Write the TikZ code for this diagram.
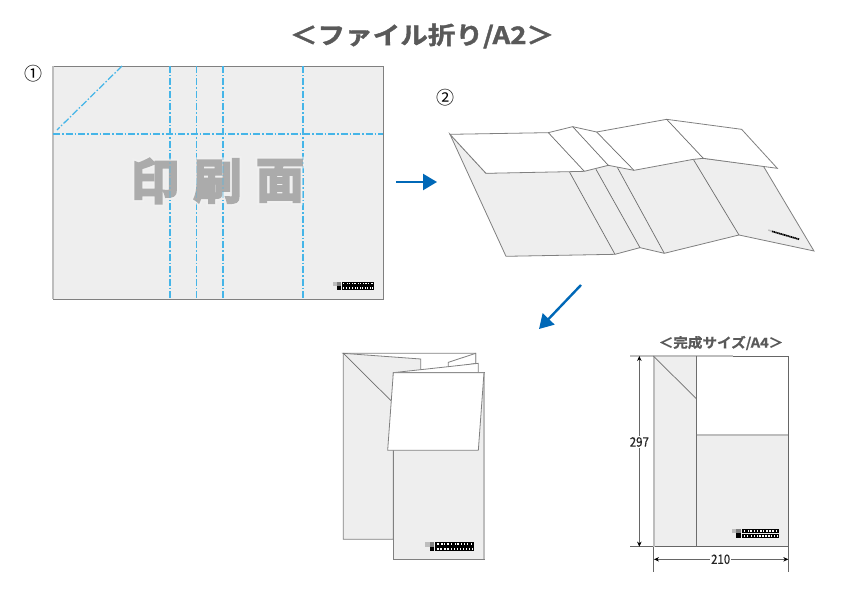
\documentclass[tikz,border=0pt]{standalone}
\usepackage{fontspec}
\setmainfont{Noto Sans CJK JP}
\newfontfamily\heavyfont[FakeBold=4.5]{Noto Sans CJK JP Bold}
\newfontfamily\haloa[FakeBold=13]{Noto Sans CJK JP Bold}
\newfontfamily\boldjp[FakeStretch=1.15,FakeBold=1.5]{Noto Sans CJK JP Bold}
\newfontfamily\boldsub[FakeStretch=1.08,FakeBold=.8]{Noto Sans CJK JP Bold}
\newfontfamily\thinjp{Noto Sans CJK JP}
\newfontfamily\dimjp[FakeStretch=.88,FakeBold=.5]{Noto Sans CJK JP}
\definecolor{sheet}{HTML}{EEEEEE}
\definecolor{edge}{HTML}{808080}
\definecolor{pale}{HTML}{BDBDBD}
\definecolor{fold}{HTML}{45B5E8}
\definecolor{flow}{HTML}{0068B7}
\definecolor{headg}{HTML}{595959}
\usetikzlibrary{arrows.meta}
\tikzset{
  paper/.style={draw=edge,fill=sheet,line width=.8pt},
  flap/.style={draw=edge,fill=white,line width=.8pt},
  crease/.style={draw=edge!85!black,line width=.7pt},
  foldline/.style={draw=fold,line width=1.25pt,dash pattern=on 7pt off 2pt on 1.5pt off 2pt},
  paleedge/.style={draw=pale,line width=1.4pt},
  flowarrow/.style={draw=flow,line width=2.4pt,-{Triangle[length=14pt,width=16pt]}},
  dimline/.style={draw=black!60,line width=.7pt},
  dimarrow/.style={draw=black!60,line width=.7pt,{Stealth[length=5pt,width=4.5pt,black]}-{Stealth[length=5pt,width=4.5pt,black]}},
  headtext/.style={text=headg,inner sep=0pt},
  bigtext/.style={text=black!33,inner sep=0pt,font=\heavyfont\fontsize{48}{48}\selectfont},
  halotext/.style={text=white!94!black,inner sep=0pt,font=\haloa\fontsize{48}{48}\selectfont},
  numtext/.style={inner sep=0pt,font=\thinjp\fontsize{18}{18}\selectfont},
  dimtext/.style={inner sep=1pt,font=\dimjp\fontsize{13}{13}\selectfont,text=black!85},
}
% small imprint mark: #1 = top-left, #2 = scale; 48 x 9 units
\newcommand{\imprintmark}[2]{%
  \begin{scope}[shift={#1},x=#2pt,y=-#2pt]
    \fill[pale] (0,0) rectangle (4.5,4.5);
    \fill[black!50] (4.5,0) rectangle (9,4.5);
    \fill[black] (4.5,4.5) rectangle (9,9);
    \fill[black] (10,0) rectangle (48,4.5);
    \foreach \wx in {12,16,18.5,22,25,29,31.5,35,38,41,45}
      \fill[white] (\wx,1) rectangle ++(1.4,1.6);
    \fill[black] (10,5) rectangle (48,9);
    \foreach \wx in {12,15,19,22,25.5,28,31,34,37,40,43,46}
      \fill[white] (\wx,6) rectangle ++(1.3,2);
  \end{scope}}
\begin{document}
\begin{tikzpicture}[x=1pt,y=-1pt]
\useasboundingbox (0,0) rectangle (843,596);
\fill[white] (0,0) rectangle (843,596);
% titles
\node[headtext,font=\boldjp\fontsize{24}{24}\selectfont] (title) at (422,36) {＜ファイル折り/A2＞};
\node[numtext] (one) at (33.5,73.5) {①};
\node[numtext] (two) at (445,98) {②};
% --- sheet 1
\fill[sheet] (53,66) rectangle (383,299);
\draw[edge,line width=.8pt] (53,299) -- (383,299) -- (383,66) -- (53,66);
\draw[paleedge] (53,66) -- (53,299);
\foreach \fx in {170,196.5,223,303}
  \draw[foldline] (\fx,66) -- (\fx,299);
\draw[foldline] (53,134) -- (383,134);
\draw[foldline] (122,66) -- (57,130);
\foreach \gx/\gt/\gn in {155/印/a,217.5/刷/b,280/面/c}{
  \node[halotext] (halo\gn) at (\gx,181) {\gt};
}
\foreach \gx/\gt/\gn in {155/印/a,217.5/刷/b,280/面/c}{
  \node[bigtext] (big\gn) at (\gx,181) {\gt};
}
\begin{scope}
\clip (53,152) rectangle (383,210);
\foreach \fx in {170,196.5,223,303}
  \draw[foldline,draw opacity=.3] (\fx,66) -- (\fx,299);
\end{scope}
\imprintmark{(333,282)}{.855}
% --- arrows
\coordinate (ar1s) at (396,182); \coordinate (ar1e) at (437,182);
\draw[flowarrow] (ar1s) -- (ar1e);
\coordinate (ar2s) at (581,285); \coordinate (ar2e) at (539,329);
\draw[flowarrow] (ar2s) -- (ar2e);
% --- sheet 2 (half-open), coordinates at 1/3 unit
\begin{scope}[shift={(420,80)},x=.3333pt,y=-.3333pt]
  \path[paper] (90,163) -- (258,529) -- (585,523) -- (660,503) -- (733,520) -- (957,465) -- (1182,513) -- (1030,258) -- (850,235) -- (198,280) -- cycle;
  \draw[crease] (448,275) -- (585,523);
  \draw[crease] (528,268) -- (660,503);
  \draw[crease] (592,262) -- (733,520);
  \draw[crease] (820,238) -- (957,465);
  \path[flap] (90,163) -- (385,158) -- (458,140) -- (530,156) -- (740,118) -- (965,148) -- (1072,265) -- (850,235) -- (820,238) -- (642,271) -- (565,256) -- (493,274) -- (450,275) -- (198,280) -- cycle;
  \draw[crease] (385,158) -- (493,274);
  \draw[crease] (458,140) -- (565,256);
  \draw[crease] (530,156) -- (642,271);
  \draw[crease] (740,118) -- (850,235);
  \draw[black,line width=1.7pt,dash pattern=on 1.3pt off .5pt] (1056,454) -- (1138,478);
  \draw[pale,line width=1.4pt] (1045,450) -- (1056,454);
\end{scope}
% --- sheet 3 (folded)
\begin{scope}[shift={(330,340)},x=.3333pt,y=-.3333pt]
  \path[flap] (40,40) -- (437,40) -- (437,110) -- (190,110) -- cycle;
  \path[flap] (355,67) -- (437,40) -- (437,70) -- (355,85) -- cycle;
  \path[paper] (40,40) -- (272,57) -- (272,190) -- (190,190) -- (190,598) -- (40,598) -- cycle;
  \draw[crease] (40,40) -- (187,186);
  \path[flap] (190,98) -- (355,80) -- (445,70) -- (445,110) -- (190,110) -- cycle;
  \path[paper] (190,98) rectangle (462,658);
  \draw[pale,line width=1.4pt] (462,98) -- (462,658);
  \path[flap] (190,98) -- (462,98) -- (445,331) -- (173,331) -- cycle;
\end{scope}
\imprintmark{(425,542)}{1.02}
% --- finished size
\node[headtext,font=\boldsub\fontsize{13.5}{14}\selectfont] (title2) at (721,343) {＜完成サイズ/A4＞};
\begin{scope}[shift={(620,330)},x=.3333pt,y=-.3333pt]
  \fill[sheet] (100,78) rectangle (505,650);
  \fill[white] (230,78) rectangle (505,315);
  \draw[dimline] (338,78) -- (505,78) -- (505,650) -- (30,650);
  \draw[pale,line width=1.1pt] (30,78) -- (338,78);
  \draw[pale,line width=1.4pt] (102,78) -- (102,650);
  \draw[crease] (230,78) -- (230,650);
  \draw[crease] (100,78) -- (230,207);
  \draw[pale,line width=1.2pt] (230,315) -- (505,315);
  \draw[dimline] (100,650) -- (100,725);
  \draw[dimline] (505,650) -- (505,725);
  \coordinate (d1a) at (58,78); \coordinate (d1b) at (58,650);
  \coordinate (d2a) at (102,688); \coordinate (d2b) at (505,688);
  \draw[dimarrow] (d1a) -- (d1b);
  \draw[dimarrow] (d2a) -- (d2b);
  \node[dimtext,fill=white] (h297) at (58,336) {297};
  \node[dimtext,fill=white] (w210) at (302,688) {210};
\end{scope}
\imprintmark{(732,529)}{.98}
\end{tikzpicture}
\end{document}
